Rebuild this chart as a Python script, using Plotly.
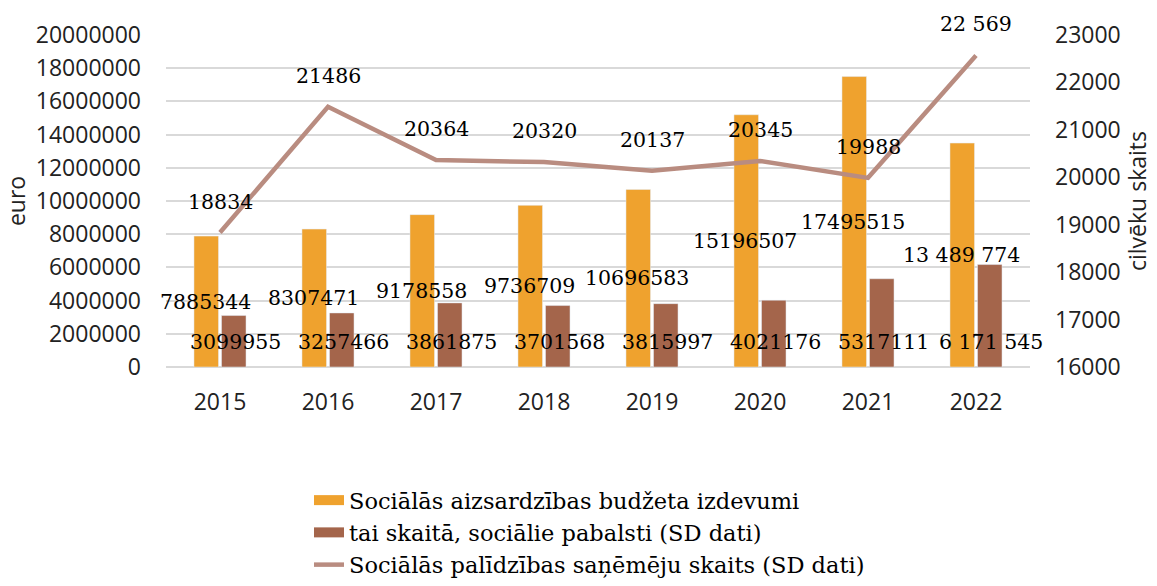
import plotly.graph_objects as go

years = ["2015", "2016", "2017", "2018", "2019", "2020", "2021", "2022"]
budget = [7885344, 8307471, 9178558, 9736709, 10696583, 15196507, 17495515, 13489774]
benefits = [3099955, 3257466, 3861875, 3701568, 3815997, 4021176, 5317111, 6171545]
recipients = [18834, 21486, 20364, 20320, 20137, 20345, 19988, 22569]

budget_labels = ["7885344", "8307471", "9178558", "9736709", "10696583", "15196507", "17495515", "13 489 774"]
benefit_labels = ["3099955", "3257466", "3861875", "3701568", "3815997", "4021176", "5317111", "6 171 545"]
recipient_labels = ["18834", "21486", "20364", "20320", "20137", "20345", "19988", "22 569"]

name_budget = "Sociālās aizsardzības budžeta izdevumi"
name_benefits = "tai skaitā, sociālie pabalsti (SD dati)"
name_recipients = "Sociālās palīdzības saņēmēju skaits (SD dati)"

ORANGE = "#EFA22E"
BROWN = "#A4654B"
LINE = "#B98C80"
SANS = "Open Sans"
SERIF = "DejaVu Serif"
LBL = 20.5
TICK = 23

W, H = 1157, 586
M_L, M_R, M_T, M_B = 166, 127, 35, 0
PLOT_BOTTOM_PX = 367
dom_lo = (H - M_B - PLOT_BOTTOM_PX) / (H - M_T - M_B)

fig = go.Figure()
fig.add_trace(go.Bar(x=years, y=budget, name=name_budget, marker_color=ORANGE, showlegend=False))
fig.add_trace(go.Bar(x=years, y=benefits, name=name_benefits, marker_color=BROWN, showlegend=False))
fig.add_trace(go.Scatter(x=years, y=recipients, name=name_recipients, yaxis="y2",
                         mode="lines", line=dict(color=LINE, width=4.5), showlegend=False))

# legend entries (wide swatches like the original)
fig.add_trace(go.Scatter(x=[None], y=[None], name=name_budget, mode="lines",
                         line=dict(color=ORANGE, width=14)))
fig.add_trace(go.Scatter(x=[None], y=[None], name=name_benefits, mode="lines",
                         line=dict(color=BROWN, width=14)))
fig.add_trace(go.Scatter(x=[None], y=[None], name=name_recipients, mode="lines", yaxis="y2",
                         line=dict(color=LINE, width=4.5)))

annotations = []
for i, (v, t) in enumerate(zip(budget, budget_labels)):
    annotations.append(dict(x=i, y=v / 2, xref="x", yref="y", text=t, showarrow=False,
                            xshift=-15, font=dict(family=SERIF, size=LBL, color="#000")))
for i, t in enumerate(benefit_labels):
    annotations.append(dict(x=i, y=0, xref="x", yref="y", text=t, showarrow=False,
                            xshift=15, yshift=25, font=dict(family=SERIF, size=LBL, color="#000")))
for i, (v, t) in enumerate(zip(recipients, recipient_labels)):
    annotations.append(dict(x=i, y=v, xref="x", yref="y2", text=t, showarrow=False,
                            yshift=31, font=dict(family=SERIF, size=LBL, color="#000")))

fig.update_layout(
    width=W, height=H,
    margin=dict(l=M_L, r=M_R, t=M_T, b=M_B),
    paper_bgcolor="white", plot_bgcolor="white",
    barmode="group", bargap=0.49, bargroupgap=0.11,
    annotations=annotations,
    xaxis=dict(type="category", range=[-0.5, len(years) - 0.5], showgrid=False, automargin=False,
               tickfont=dict(family=SANS, size=TICK, color="#222"), anchor="y",
               ticklabelstandoff=19, showline=False),
    yaxis=dict(range=[0, 20000000], dtick=2000000, tickformat="d", automargin=False,
               domain=[dom_lo, 1],
               gridcolor="#D9D9D9", gridwidth=1.5, zeroline=True, zerolinecolor="#D9D9D9",
               zerolinewidth=1.5,
               tickfont=dict(family=SANS, size=TICK, color="#222"), ticklabelstandoff=24,
               title=dict(text="euro", font=dict(family=SANS, size=TICK, color="#222"), standoff=4)),
    yaxis2=dict(range=[16000, 23000], dtick=1000, tickformat="d", overlaying="y", side="right",
                showgrid=False, zeroline=False, automargin=False,
                tickfont=dict(family=SANS, size=TICK, color="#222"), ticklabelstandoff=24,
                title=dict(text="cilvēku skaits", font=dict(family=SANS, size=TICK, color="#222"), standoff=8)),
    legend=dict(orientation="v", x=(309 - M_L) / (W - M_L - M_R), y=0,
                xanchor="left", yanchor="bottom",
                font=dict(family=SERIF, size=22.5, color="#000"), tracegroupgap=0,
                itemwidth=30, bgcolor="rgba(0,0,0,0)"),
    showlegend=True,
)

fig.write_html("out.html", post_script="document.body.style.margin='0';",
               config={"displayModeBar": False})
